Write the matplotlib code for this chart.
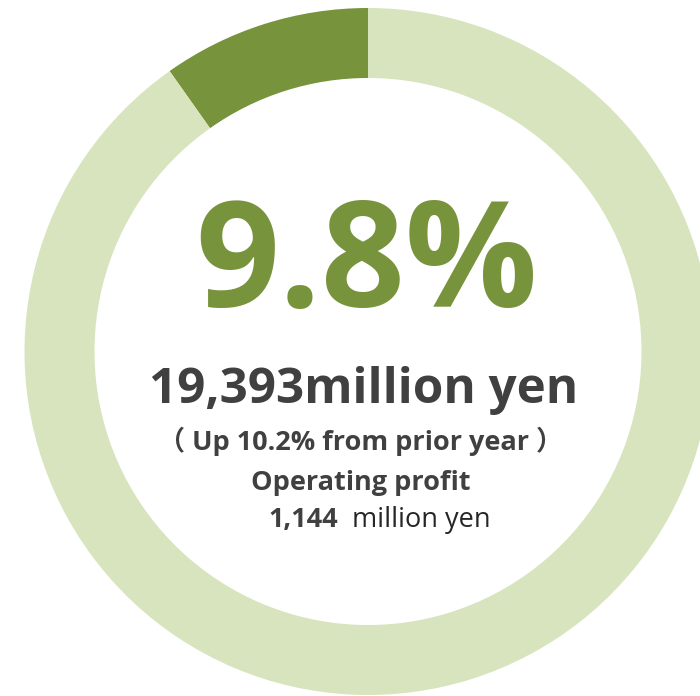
import matplotlib.pyplot as plt

# Share of operating profit and the figures printed inside the ring
share = 9.8
slices = [share, 100 - share]
ring_colors = ['#77933C', '#D7E4BD']

headline = f'{share}%'
sales_text = '19,393million yen'
growth_text = '（ Up 10.2% from prior year ）'
profit_label = 'Operating profit'
profit_value = '1,144'
profit_unit = 'million yen'

W, H = 700, 696
fig = plt.figure(figsize=(W / 100, H / 100), dpi=100)
ax = fig.add_axes([0, 0, 1, 1])

cx, cy = 368, H - 351.5
ax.pie(slices, colors=ring_colors, startangle=90, counterclock=True,
       center=(cx, cy), radius=343.5, frame=True,
       wedgeprops=dict(width=70, linewidth=0))
ax.set_xlim(0, W)
ax.set_ylim(0, H)
ax.set_aspect('equal')
ax.axis('off')

font = 'Open Sans'
grey = '#404040'

ax.text(367, H - 307, headline, ha='center', va='baseline', fontsize=106,
        fontweight='bold', color='#77933C', family=font)
ax.text(364, H - 403, sales_text, ha='center', va='baseline', fontsize=35.5,
        fontweight='bold', color=grey, family=font)
ax.text(361, H - 450, growth_text, ha='center', va='baseline', fontsize=19.5,
        fontweight='bold', color=grey, family=[font, 'Noto Sans CJK JP'])
ax.text(361, H - 490, profit_label, ha='center', va='baseline', fontsize=19.5,
        fontweight='bold', color=grey, family=font)
ax.text(268, H - 527, profit_value, ha='left', va='baseline', fontsize=19.5,
        fontweight='bold', color=grey, family=font)
ax.text(352, H - 527, profit_unit, ha='left', va='baseline', fontsize=19.5,
        color='#262626', family=font)

fig.savefig('out.png', dpi=100)
